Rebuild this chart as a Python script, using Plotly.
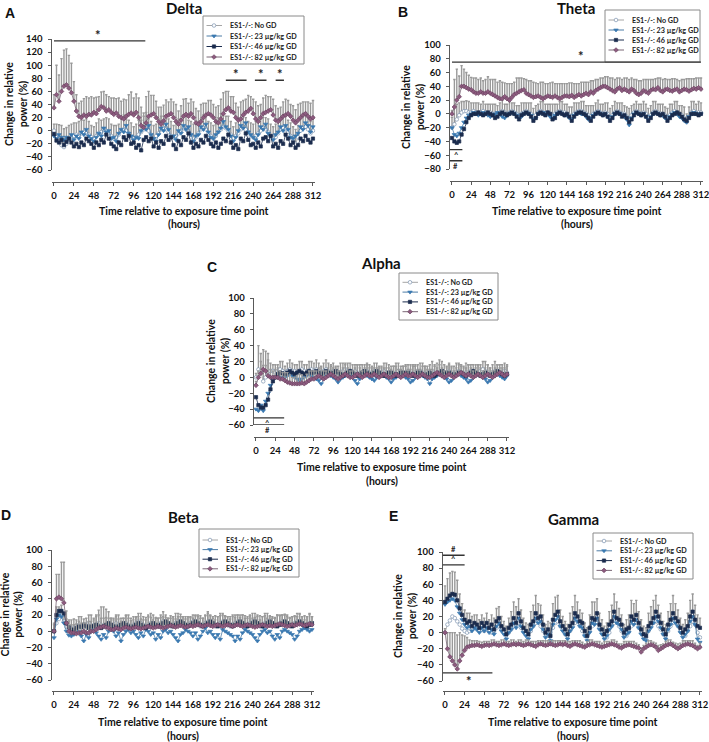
import plotly.graph_objects as go

# canvas size (px)
W, H = 709, 742

# sampling grid: every 3 h from exposure (0) to 312 h
HOURS = list(range(0, 313, 3))
X_TICKS = list(range(0, 313, 24))

SERIES_NAMES = ["ES1-/-: No GD", "ES1-/-: 23 µg/kg GD",
                "ES1-/-: 46 µg/kg GD", "ES1-/-: 82 µg/kg GD"]

# ---------------- Delta ----------------
DELTA_NOGD = [
    0, -10, -16, -22, -25, -20, -14, -10,
    -8, -6, -8, -4, -2, -4, -6, -10,
    -12, -8, -4, -2, 2, 0, -4, -8,
    -12, -10, -6, 0, 2, 0, -4, -10,
    -12, -10, -6, -2, 2, 4, 0, -6,
    -12, -8, -4, 2, 4, 2, -2, -8,
    -10, -8, -4, 0, 4, 2, -2, -6,
    -12, -10, -4, 2, 4, 2, -4, -8,
    -12, -8, -2, 2, 6, 4, 0, -6,
    -12, -8, -4, 2, 4, 2, -2, -8,
    -10, -8, -4, 0, 4, 2, -2, -8,
    -12, -10, -4, 2, 4, 2, -2, -8,
    -14, -20, -10, 0, 4, 6, 2, -4,
    0]
DELTA_23 = [
    -8, -12, -6, -10, -14, -10, -12, -6,
    -14, -8, -12, -2, -6, 2, -8, -12,
    -16, -10, -4, -8, 4, -2, 0, -12,
    -10, -16, -4, 2, -2, 8, -4, -8,
    -14, -10, -12, 0, 6, 2, 8, -6,
    -12, -16, -6, 4, 0, 10, 2, -10,
    -8, -14, 0, -4, 8, 2, 6, -6,
    -16, -8, -6, 6, 2, 10, -2, -10,
    -12, -6, -2, 4, 14, 6, 2, -8,
    -16, -10, 0, 8, 4, 12, -2, -6,
    -10, -14, -6, 6, 2, 10, -4, -8,
    -14, -6, -2, 6, 0, 8, 2, -10,
    -12, -8, -4, 6, 2, 12, 8, -2,
    6]
DELTA_46 = [
    -5, -15, -18, -14, -22, -17, -12, -18,
    -24, -20, -25, -18, -22, -12, -16, -20,
    -26, -18, -22, -14, -18, -6, -12, -20,
    -24, -28, -18, -22, -10, -14, -8, -20,
    -18, -26, -22, -30, -14, -10, -16, -12,
    -24, -18, -26, -16, -20, -8, -14, -10,
    -22, -28, -16, -22, -10, -14, -4, -18,
    -26, -20, -24, -14, -18, -8, -14, -20,
    -24, -18, -26, -20, -12, -16, -6, -18,
    -26, -22, -28, -12, -16, -4, -14, -22,
    -20, -26, -18, -24, -12, -10, -16, -8,
    -24, -20, -26, -16, -20, -6, -12, -22,
    -18, -26, -22, -12, -16, -8, -14, -18,
    -12]
DELTA_82 = [
    35, 55, 45, 60, 68, 70, 65, 58,
    45, 30, 22, 20, 24, 22, 25, 24,
    28, 26, 32, 37, 35, 30, 32, 28,
    25, 27, 22, 20, 18, 22, 25, 27,
    24, 28, 20, 8, 5, 12, 22, 24,
    26, 20, 14, 10, 15, 22, 24, 26,
    20, 14, 10, 16, 22, 25, 22, 26,
    20, 12, 10, 14, 20, 24, 26, 24,
    20, 14, 12, 18, 26, 32, 35, 30,
    28, 20, 16, 18, 24, 28, 30, 34,
    26, 18, 14, 20, 26, 28, 30, 32,
    24, 16, 14, 18, 22, 24, 26, 22,
    16, 12, 16, 20, 24, 26, 22, 18,
    20]
DELTA_ERR_NOGD = [
    10, 20, 25, 30, 28, 25, 22, 20,
    20, 18, 22, 20, 18, 22, 20, 18,
    18, 20, 22, 18, 16, 20, 22, 18,
    20, 18, 16, 20, 22, 18, 20, 22,
    18, 20, 22, 18, 20, 24, 18, 20,
    20, 18, 22, 20, 18, 16, 20, 22,
    18, 20, 22, 18, 20, 22, 18, 20,
    22, 20, 18, 16, 20, 22, 18, 20,
    20, 18, 22, 24, 20, 18, 22, 20,
    18, 20, 22, 18, 20, 18, 16, 20,
    20, 22, 18, 20, 22, 18, 20, 18,
    18, 20, 22, 18, 20, 22, 18, 20,
    20, 22, 18, 20, 18, 22, 20, 18,
    20]
DELTA_ERR_82 = [
    20, 45, 40, 50, 55, 55, 50, 45,
    30, 25, 20, 25, 25, 30, 25, 28,
    22, 25, 20, 22, 25, 25, 20, 22,
    25, 22, 28, 25, 30, 25, 30, 32,
    26, 28, 30, 28, 22, 40, 38, 30,
    28, 25, 22, 26, 24, 25, 20, 22,
    24, 26, 20, 22, 26, 24, 20, 22,
    24, 22, 20, 26, 22, 18, 20, 22,
    20, 22, 26, 30, 32, 28, 25, 22,
    24, 22, 20, 26, 22, 20, 24, 18,
    22, 26, 24, 20, 24, 26, 22, 20,
    24, 22, 20, 18, 22, 24, 20, 18,
    22, 20, 24, 22, 20, 18, 22, 24,
    26]

# ---------------- Theta ----------------
THETA_NOGD = [
    -20, -15, -8, -2, 2, 4, 4, 2,
    2, 4, 2, 0, 2, 4, 2, 0,
    2, 0, -2, 0, 2, 4, 2, 0,
    2, 4, 2, 0, -2, 0, 2, 4,
    2, 0, -4, -2, 2, 4, 2, 0,
    2, 0, -2, 0, 2, 4, 2, 2,
    0, -2, -4, 0, 2, 4, 4, 2,
    0, -2, -4, 0, 2, 4, 2, 0,
    2, 0, -4, -2, 2, 4, 2, 0,
    0, -4, -8, -2, 2, 4, 2, 0,
    2, 0, -4, -2, 2, 4, 2, 0,
    0, -2, -6, -2, 2, 4, 2, 0,
    -2, -6, -12, -4, 2, 4, 2, 2,
    2]
THETA_23 = [
    -20, -30, -32, -28, -20, -12, -6, -2,
    0, 2, 0, -2, 0, 2, 0, -2,
    -4, -2, 0, 2, 0, -4, -6, -2,
    0, 2, 0, -2, -6, -4, 0, 2,
    0, -2, -8, -6, 0, 2, 2, 0,
    0, -4, -6, -2, 0, 2, 0, -2,
    -2, -6, -8, -2, 0, 2, 0, 0,
    -4, -8, -6, -2, 0, 2, 0, -2,
    0, -4, -8, -4, 0, 2, 0, -2,
    -4, -8, -16, -6, 0, 2, 0, -2,
    0, -4, -8, -4, 0, 2, 0, -2,
    -2, -6, -8, -4, 0, 2, 0, -4,
    -6, -10, -12, -4, 0, 2, 0, 0,
    0]
THETA_46 = [
    -35, -40, -42, -40, -30, -22, -12, -6,
    -2, 0, 0, 2, 0, -2, 0, 2,
    0, -2, -6, -4, 0, 2, 0, -2,
    0, 2, 0, -4, -8, -2, 0, 2,
    0, -4, -10, -6, 0, 2, 0, -2,
    2, 0, -8, -6, 0, 2, 0, -2,
    0, -4, -10, -4, 0, 2, 2, 0,
    -2, -6, -10, -4, 0, 2, 0, -2,
    0, -4, -10, -6, 0, 2, 0, -4,
    -2, -6, -12, -8, -2, 2, 0, -2,
    0, -4, -10, -6, 0, 2, 0, -2,
    0, -4, -10, -6, -2, 0, 2, 0,
    -4, -8, -10, -6, 0, 0, 0, -2,
    0]
THETA_82 = [
    0, 10, 20, 25, 40, 40, 38, 36,
    35, 32, 30, 30, 32, 30, 30, 32,
    30, 28, 26, 24, 22, 22, 25, 22,
    20, 24, 28, 30, 32, 34, 35, 30,
    28, 26, 24, 25, 26, 24, 22, 24,
    26, 25, 24, 26, 24, 22, 24, 26,
    26, 25, 27, 24, 26, 28, 26, 28,
    30, 28, 32, 30, 34, 36, 38, 40,
    40, 38, 36, 34, 32, 36, 38, 34,
    36, 34, 32, 36, 34, 30, 28, 30,
    34, 32, 30, 34, 36, 35, 38, 34,
    32, 35, 36, 34, 33, 35, 36, 32,
    34, 36, 35, 33, 35, 37, 36, 38,
    36]
THETA_ERR_NOGD = [
    15, 25, 22, 18, 16, 14, 15, 16,
    14, 12, 14, 16, 12, 14, 12, 14,
    12, 14, 16, 12, 14, 16, 12, 14,
    16, 12, 14, 12, 14, 16, 14, 12,
    14, 16, 12, 14, 12, 14, 16, 14,
    12, 14, 16, 14, 12, 14, 16, 12,
    14, 12, 14, 16, 14, 12, 14, 16,
    12, 14, 16, 12, 14, 16, 12, 14,
    14, 16, 12, 14, 16, 12, 14, 16,
    12, 14, 16, 14, 12, 14, 12, 14,
    16, 14, 12, 14, 16, 14, 12, 14,
    14, 12, 14, 16, 12, 14, 16, 12,
    14, 16, 12, 14, 16, 14, 12, 16,
    14]
THETA_ERR_82 = [
    5, 40, 45, 30, 30, 25, 22, 20,
    18, 20, 22, 20, 20, 18, 20, 22,
    20, 22, 24, 22, 26, 24, 20, 22,
    24, 20, 18, 22, 20, 18, 16, 20,
    20, 22, 22, 20, 18, 22, 24, 20,
    18, 20, 22, 18, 20, 22, 20, 18,
    18, 20, 18, 20, 18, 16, 20, 18,
    16, 18, 16, 18, 16, 14, 14, 12,
    14, 16, 16, 18, 18, 16, 14, 16,
    16, 18, 18, 16, 16, 20, 20, 18,
    16, 18, 20, 16, 14, 16, 14, 18,
    18, 16, 14, 16, 18, 16, 14, 16,
    16, 14, 16, 18, 16, 14, 16, 14,
    16]

# ---------------- Alpha ----------------
ALPHA_NOGD = [
    0, 10, 8, -5, 0, 5, 8, 8,
    6, 8, 10, 8, 6, 8, 10, 8,
    8, 6, 8, 10, 8, 6, 8, 10,
    8, 10, 8, 6, 8, 10, 8, 6,
    8, 6, 4, 6, 8, 10, 8, 6,
    6, 8, 6, 4, 6, 8, 8, 6,
    6, 8, 6, 4, 6, 8, 6, 6,
    6, 4, 6, 8, 6, 4, 6, 8,
    6, 4, 6, 8, 8, 6, 4, 6,
    6, 8, 6, 4, 6, 8, 6, 6,
    8, 6, 4, 6, 8, 6, 4, 6,
    6, 8, 6, 4, 6, 8, 10, 8,
    6, 4, 6, 8, 6, 4, 6, 8,
    6]
ALPHA_23 = [
    -40, -42, -35, -42, -30, -20, -10, -3,
    0, 2, 0, -2, 0, 2, 4, 2,
    0, -2, -4, -2, 0, 2, 4, 2,
    0, -2, -4, -8, -2, 2, 4, 2,
    0, -2, -6, -2, 0, 2, 4, 2,
    0, -4, -8, -2, 2, 4, 2, 0,
    -2, -4, 0, 2, 4, 2, 0, -2,
    -6, -2, 0, 2, 4, 2, 0, -2,
    -6, -4, 0, 2, 4, 2, 0, -2,
    -8, -2, 0, 2, 4, 2, 0, -2,
    -6, -4, 0, 2, 4, 2, 0, -2,
    -6, -4, 0, 2, 4, 2, 0, -2,
    -6, -4, 0, 2, 4, 2, 0, -2,
    2]
ALPHA_46 = [
    -25, -35, -38, -38, -35, -28, -15, -5,
    0, 4, 6, 5, 4, 6, 8, 6,
    4, 6, 8, 6, 4, 6, 8, 6,
    6, 8, 6, 4, 6, 8, 6, 4,
    6, 8, 6, 4, 2, 4, 6, 8,
    6, 4, 2, 4, 6, 8, 6, 4,
    4, 6, 8, 6, 4, 2, 4, 6,
    6, 4, 2, 4, 6, 6, 4, 6,
    4, 2, 4, 6, 6, 4, 2, 4,
    6, 4, 2, 4, 6, 8, 6, 4,
    6, 4, 2, 4, 6, 6, 4, 2,
    4, 6, 8, 6, 4, 2, 4, 6,
    4, 2, 4, 6, 8, 6, 4, 2,
    4]
ALPHA_82 = [
    -10, 0, 5, 10, 8, 2, 0, 0,
    0, 0, -2, -2, -4, -6, -7, -8,
    -8, -8, -8, -7, -8, -6, -4, -2,
    -2, 0, 2, 0, -2, 0, 2, 4,
    2, 0, -2, 0, 2, 4, 2, 0,
    0, 2, 4, 2, 0, 2, 4, 2,
    2, 4, 2, 0, 2, 4, 2, 0,
    0, 2, 4, 2, 0, 2, 4, 2,
    2, 4, 2, 0, 2, 4, 2, 0,
    0, 2, 4, 6, 4, 2, 0, 2,
    4, 2, 0, 2, 4, 6, 4, 2,
    4, 2, 0, 2, 4, 2, 0, 2,
    4, 2, 0, 2, 4, 6, 4, 2,
    4]
ALPHA_ERR_NOGD = [
    5, 30, 22, 20, 15, 25, 10, 8,
    10, 8, 10, 12, 8, 10, 12, 10,
    8, 10, 12, 10, 8, 10, 12, 10,
    10, 12, 10, 8, 10, 12, 10, 8,
    10, 8, 10, 12, 10, 8, 10, 12,
    10, 8, 10, 12, 10, 8, 10, 10,
    8, 10, 12, 10, 8, 10, 12, 10,
    8, 10, 12, 10, 8, 10, 10, 8,
    10, 12, 10, 8, 10, 12, 10, 8,
    10, 12, 10, 8, 10, 12, 10, 8,
    10, 8, 10, 12, 10, 8, 10, 12,
    10, 8, 10, 12, 10, 8, 10, 12,
    10, 8, 10, 12, 10, 8, 10, 10,
    10]
ALPHA_ERR_82 = [
    5, 8, 15, 25, 25, 20, 10, 8,
    10, 12, 10, 8, 10, 12, 10, 8,
    8, 10, 12, 10, 8, 10, 12, 10,
    10, 8, 10, 12, 10, 8, 10, 12,
    10, 12, 10, 8, 10, 12, 10, 8,
    8, 10, 12, 10, 8, 10, 12, 10,
    10, 8, 10, 12, 10, 8, 10, 12,
    10, 12, 10, 8, 10, 12, 10, 8,
    8, 10, 12, 10, 8, 10, 12, 10,
    10, 8, 10, 12, 18, 10, 8, 10,
    12, 10, 8, 10, 12, 10, 8, 10,
    12, 10, 8, 10, 12, 10, 8, 10,
    12, 10, 8, 10, 12, 10, 8, 10,
    10]

# ---------------- Beta ----------------
BETA_NOGD = [
    0, 10, 15, 20, 12, 5, 4, 4,
    5, 6, 8, 6, 5, 8, 10, 8,
    6, 8, 10, 8, 6, 5, 6, 8,
    8, 10, 8, 6, 8, 10, 8, 6,
    8, 10, 12, 10, 8, 6, 8, 10,
    8, 6, 8, 10, 12, 10, 8, 6,
    8, 10, 12, 10, 8, 6, 8, 10,
    12, 10, 8, 6, 8, 10, 12, 10,
    8, 6, 8, 10, 12, 10, 8, 6,
    8, 10, 12, 10, 8, 6, 8, 10,
    12, 10, 8, 6, 8, 10, 12, 10,
    8, 6, 8, 10, 12, 10, 8, 6,
    8, 10, 12, 10, 8, 6, 8, 10,
    8]
BETA_23 = [
    -8, 15, 20, 18, 10, 0, -5, -6,
    -4, -2, 0, -6, -12, -4, -8, 0,
    2, -2, -6, -10, -4, -8, 0, 2,
    0, -6, -2, -12, -4, 0, 2, -2,
    0, -4, -8, -2, -6, 2, 0, -4,
    -2, -10, -4, -8, 0, 2, -2, 0,
    -4, -8, -12, -4, -2, 2, 0, -2,
    -6, -2, -10, -6, 0, 4, -2, 0,
    -4, -8, -4, -10, 2, 0, -2, -4,
    -6, -12, -6, -10, -2, 2, 0, -2,
    -4, -8, -12, -4, 0, 2, -2, 0,
    -6, -10, -4, -8, 0, 2, 0, -2,
    -4, -10, -6, 0, 2, 4, 2, 0,
    2]
BETA_46 = [
    0, 20, 25, 25, 22, 10, 5, 2,
    2, 4, 6, 5, 8, 6, 4, 6,
    6, 8, 6, 4, 6, 8, 10, 8,
    6, 4, 6, 8, 10, 8, 6, 4,
    6, 8, 10, 8, 6, 4, 6, 8,
    10, 8, 6, 8, 10, 12, 10, 8,
    6, 8, 10, 12, 10, 8, 6, 8,
    10, 12, 10, 8, 6, 8, 10, 12,
    10, 8, 6, 8, 10, 12, 10, 8,
    6, 8, 10, 12, 10, 8, 6, 8,
    10, 12, 10, 8, 6, 8, 10, 12,
    10, 8, 6, 8, 10, 12, 10, 8,
    6, 8, 10, 12, 10, 8, 6, 8,
    10]
BETA_82 = [
    0, 40, 42, 40, 35, 10, 0, -2,
    -2, -3, -2, -2, 0, -2, -2, 0,
    0, 2, 4, 5, 6, 5, 4, 2,
    2, 4, 3, 2, 4, 5, 4, 3,
    4, 5, 4, 3, 4, 5, 6, 5,
    4, 5, 6, 5, 4, 5, 6, 7,
    6, 5, 6, 7, 6, 5, 6, 7,
    6, 7, 8, 7, 6, 7, 8, 7,
    6, 7, 8, 7, 6, 7, 8, 7,
    6, 7, 8, 7, 6, 7, 8, 7,
    6, 5, 6, 7, 8, 7, 6, 7,
    6, 7, 8, 9, 8, 7, 6, 7,
    8, 7, 8, 9, 8, 7, 8, 9,
    8]
BETA_ERR_NOGD = [
    8, 20, 15, 12, 10, 10, 10, 10,
    10, 8, 10, 12, 10, 8, 10, 12,
    10, 12, 10, 8, 10, 12, 10, 8,
    8, 10, 12, 10, 8, 10, 12, 10,
    10, 8, 10, 12, 10, 8, 10, 12,
    12, 10, 8, 10, 12, 10, 8, 10,
    10, 12, 10, 8, 10, 12, 10, 8,
    8, 10, 12, 10, 8, 10, 12, 10,
    10, 8, 10, 12, 10, 8, 10, 12,
    12, 10, 8, 10, 12, 10, 8, 10,
    10, 12, 10, 8, 10, 12, 10, 8,
    8, 10, 12, 10, 8, 10, 12, 10,
    10, 8, 10, 12, 10, 8, 10, 12,
    10]
BETA_ERR_82 = [
    10, 30, 28, 45, 50, 15, 12, 10,
    10, 12, 14, 12, 10, 12, 14, 12,
    14, 16, 22, 25, 24, 22, 20, 14,
    12, 14, 12, 10, 12, 14, 12, 10,
    10, 12, 14, 12, 10, 12, 14, 12,
    10, 12, 10, 12, 14, 12, 10, 12,
    12, 10, 12, 14, 12, 10, 12, 10,
    10, 12, 10, 12, 10, 12, 14, 12,
    10, 12, 10, 12, 14, 12, 10, 8,
    12, 10, 12, 10, 14, 12, 10, 12,
    10, 12, 14, 12, 10, 12, 10, 12,
    12, 10, 12, 10, 12, 14, 12, 10,
    10, 12, 10, 12, 10, 12, 10, 12,
    10]

# ---------------- Gamma ----------------
GAMMA_NOGD = [
    0, 10, 15, 20, 18, 14, 10, 5,
    2, 0, 2, 4, 6, 4, 2, 4,
    2, 4, 2, 0, 2, 6, 8, 4,
    0, -2, 0, 4, 8, 10, 12, 6,
    2, -2, -4, 2, 8, 12, 14, 8,
    2, -2, -4, 0, 6, 12, 14, 8,
    4, -2, -4, 2, 8, 12, 14, 8,
    2, -4, -4, 2, 8, 12, 12, 6,
    0, -4, -6, 0, 8, 12, 14, 8,
    2, -2, -4, 2, 8, 12, 12, 6,
    0, -4, -6, 2, 8, 12, 14, 8,
    4, -2, -4, 2, 8, 12, 14, 8,
    2, -2, -4, 2, 8, 14, 10, 0,
    -6]
GAMMA_23 = [
    35, 38, 40, 42, 40, 32, 24, 16,
    10, 6, 8, 2, 6, 4, 0, 6,
    2, 6, 0, 4, -2, 8, 12, 2,
    -2, -8, 0, 4, 12, 6, 18, 8,
    0, -4, -8, 4, 8, 18, 12, 14,
    4, -6, -2, -10, 10, 16, 20, 8,
    2, -2, -8, 2, 6, 18, 14, 8,
    6, -4, -10, 0, 12, 10, 18, 4,
    -2, -8, -4, 4, 8, 20, 12, 10,
    4, -6, -2, 0, 14, 10, 16, 6,
    -2, -8, -10, 2, 6, 12, 20, 14,
    6, -2, -8, 4, 10, 18, 12, 8,
    0, -6, -2, 2, 14, 20, 10, -8,
    -12]
GAMMA_46 = [
    38, 42, 46, 48, 47, 40, 30, 22,
    16, 12, 14, 8, 12, 10, 6, 12,
    8, 12, 6, 10, 4, 14, 18, 8,
    4, -2, 6, 10, 18, 12, 24, 14,
    6, 2, -2, 10, 14, 24, 18, 20,
    10, 0, 4, -4, 16, 22, 26, 14,
    8, 4, -2, 8, 12, 24, 20, 14,
    12, 2, -4, 6, 18, 16, 24, 10,
    4, -2, 2, 10, 14, 26, 18, 16,
    10, 0, 4, 6, 20, 16, 22, 12,
    4, -2, -4, 8, 12, 18, 26, 20,
    12, 4, -2, 10, 16, 24, 18, 14,
    6, 0, 4, 8, 20, 26, 16, 8,
    6]
GAMMA_82 = [
    0, -20, -30, -35, -40, -45, -35, -28,
    -22, -18, -17, -16, -16, -15, -16, -17,
    -16, -15, -16, -15, -14, -15, -16, -15,
    -14, -15, -16, -15, -14, -15, -14, -15,
    -16, -15, -14, -15, -16, -17, -15, -14,
    -15, -16, -15, -14, -15, -16, -15, -14,
    -15, -14, -16, -17, -15, -14, -15, -16,
    -17, -18, -16, -15, -14, -15, -16, -17,
    -18, -17, -16, -15, -14, -15, -16, -18,
    -19, -17, -16, -15, -16, -17, -18, -19,
    -24, -20, -18, -16, -15, -16, -18, -22,
    -20, -18, -16, -15, -14, -16, -18, -20,
    -18, -16, -15, -14, -15, -16, -18, -20,
    -18]
GAMMA_ERR_46 = [
    20, 25, 28, 28, 28, 25, 18, 14,
    12, 12, 10, 12, 10, 12, 10, 10,
    10, 12, 10, 12, 14, 16, 14, 12,
    10, 10, 12, 16, 20, 20, 18, 14,
    12, 10, 12, 16, 20, 22, 18, 14,
    12, 10, 10, 16, 20, 22, 20, 14,
    12, 10, 12, 16, 20, 22, 18, 14,
    12, 10, 10, 16, 20, 22, 18, 14,
    12, 10, 10, 16, 20, 22, 20, 14,
    12, 10, 12, 16, 20, 20, 18, 14,
    12, 10, 10, 16, 20, 22, 20, 14,
    12, 10, 12, 16, 20, 22, 18, 14,
    12, 10, 12, 16, 20, 22, 18, 14,
    12]
GAMMA_ERR_82 = [
    5, 20, 30, 35, 40, 42, 35, 25,
    18, 12, 8, 6, 6, 5, 5, 5,
    5, 4, 5, 6, 5, 4, 5, 6,
    5, 4, 5, 6, 5, 4, 5, 6,
    5, 6, 5, 4, 5, 6, 5, 4,
    5, 6, 5, 4, 5, 6, 5, 4,
    5, 4, 5, 6, 5, 4, 5, 6,
    5, 4, 5, 6, 5, 4, 5, 6,
    5, 6, 5, 4, 5, 6, 5, 4,
    5, 6, 5, 4, 5, 6, 5, 4,
    5, 4, 5, 6, 5, 4, 5, 6,
    5, 4, 5, 6, 5, 4, 5, 6,
    5, 6, 5, 4, 5, 6, 5, 4,
    5]

# significance bars: (start h, end h, level)   labels: (text, h, level, side)
DELTA_BARS = [(0, 110, 137), (207, 232, 77), (242, 256, 77), (267, 277, 77)]
DELTA_MARKS = [("*", 53, 137, "above"), ("*", 219, 77, "above"),
               ("*", 249, 77, "above"), ("*", 272, 77, "above")]
THETA_BARS = [(0, 312, 75), (-3, 13, -52), (-3, 13, -68)]
THETA_MARKS = [("*", 162, 75, "above"), ("^", 5, -52, "below"), ("#", 5, -68, "below")]
ALPHA_BARS = [(-3, 35, -51), (-3, 35, -60)]
ALPHA_MARKS = [("^", 14, -51, "below"), ("#", 14, -60, "below")]
GAMMA_BARS = [(-3, 24, 96), (-3, 24, 84), (-3, 58, -50)]
GAMMA_MARKS = [("#", 10, 96, "above"), ("^", 10, 84, "above"), ("*", 29, -50, "below")]

# marker / line style per group
STYLES = [
    dict(symbol="circle", fill="white", edge="#7d94b0", line="#a6a6a6", size=3.6),
    dict(symbol="triangle-down", fill="#3a78b0", edge="#3a78b0", line="#4d7ca6", size=4),
    dict(symbol="square", fill="#1b2c4e", edge="#1b2c4e", line="#1b2c4e", size=3.3),
    dict(symbol="diamond", fill="#8d5b7f", edge="#6c4461", line="#7a6877", size=3.6),
]
ERR_COLOR = "#999999"
AXIS_COLOR = "#595959"
FONT = "Lato"

# panel geometry in px: p0/p312 = pixel of 0 h and 312 h, yt/yb = top/bottom of y axis
PANELS = [
    dict(letter="A", title="Delta", series=[DELTA_NOGD, DELTA_23, DELTA_46, DELTA_82],
         errs={0: DELTA_ERR_NOGD, 3: DELTA_ERR_82}, yr=[-60, 140],
         p0=54, p312=313, yt=39, yb=170, xline=181.5,
         letter_xy=(10, 13), title_xy=(184, 8), ytitle_x=15.5, xtitle_y=211,
         legend_box=(203, 16, 304, 64), legend_rows=(25.5, 10.5),
         bars=DELTA_BARS, marks=DELTA_MARKS),
    dict(letter="B", title="Theta", series=[THETA_NOGD, THETA_23, THETA_46, THETA_82],
         errs={0: THETA_ERR_NOGD, 3: THETA_ERR_82}, yr=[-80, 100],
         p0=452, p312=701, yt=45, yb=169, xline=181,
         letter_xy=(403, 12), title_xy=(576, 8), ytitle_x=413, xtitle_y=211,
         legend_box=(605, 10, 700, 62), legend_rows=(20, 10),
         bars=THETA_BARS, marks=THETA_MARKS),
    dict(letter="C", title="Alpha", series=[ALPHA_NOGD, ALPHA_23, ALPHA_46, ALPHA_82],
         errs={0: ALPHA_ERR_NOGD, 3: ALPHA_ERR_82}, yr=[-60, 100],
         p0=256, p312=507, yt=298, yb=425, xline=437,
         letter_xy=(212, 267), title_xy=(381, 263), ytitle_x=217.5, xtitle_y=467,
         legend_box=(399, 273, 498, 320), legend_rows=(282.3, 9.8),
         bars=ALPHA_BARS, marks=ALPHA_MARKS),
    dict(letter="D", title="Beta", series=[BETA_NOGD, BETA_23, BETA_46, BETA_82],
         errs={0: BETA_ERR_NOGD, 3: BETA_ERR_82}, yr=[-60, 100],
         p0=54, p312=312, yt=550, yb=680, xline=691,
         letter_xy=(6, 515), title_xy=(183, 517), ytitle_x=11.5, xtitle_y=722,
         legend_box=(199, 529, 299, 577), legend_rows=(540, 9.6),
         bars=[], marks=[]),
    dict(letter="E", title="Gamma", series=[GAMMA_NOGD, GAMMA_23, GAMMA_46, GAMMA_82],
         errs={2: GAMMA_ERR_46, 3: GAMMA_ERR_82}, yr=[-60, 100],
         p0=445, p312=700, yt=552, yb=681, xline=691,
         letter_xy=(393, 516), title_xy=(573, 519), ytitle_x=404.5, xtitle_y=722,
         legend_box=(593, 533, 693, 579), legend_rows=(541, 9.8),
         bars=GAMMA_BARS, marks=GAMMA_MARKS),
]
X_RANGE = [-3, 315]


def fx(px):
    return px / W


def fy(py):
    return 1 - py / H


fig = go.Figure()
annotations = []
shapes = []
layout = {}

# overlay axis in pixel units, used for the hand-drawn legends
LX, LY = "x6", "y6"
layout["xaxis6"] = dict(domain=[0, 1], range=[0, W], visible=False, fixedrange=True)
layout["yaxis6"] = dict(domain=[0, 1], range=[H, 0], visible=False, fixedrange=True, anchor=LX)

for i, p in enumerate(PANELS):
    n = "" if i == 0 else str(i + 1)
    xa, ya = "x" + n, "y" + n
    k = (p["p312"] - p["p0"]) / 312.0

    for j, vals in enumerate(p["series"]):
        assert len(vals) == len(HOURS), (p["title"], j, len(vals))
        st = STYLES[j]
        err = p["errs"].get(j)
        fig.add_trace(go.Scatter(
            x=HOURS, y=vals, xaxis=xa, yaxis=ya, showlegend=False,
            name=SERIES_NAMES[j], mode="lines+markers",
            line=dict(color=st["line"], width=0.8),
            marker=dict(symbol=st["symbol"], size=st["size"], color=st["fill"],
                        line=dict(color=st["edge"], width=0.7)),
            error_y=dict(type="data", array=err, symmetric=False, arrayminus=[0] * len(err),
                         color=ERR_COLOR, thickness=1.4, width=1.2) if err else None,
            hoverinfo="skip",
        ))

    layout["xaxis" + n] = dict(
        domain=[fx(p["p0"] + X_RANGE[0] * k), fx(p["p0"] + X_RANGE[1] * k)],
        range=X_RANGE, anchor="free", position=fy(p["xline"]), automargin=False,
        showline=True, linecolor=AXIS_COLOR, linewidth=1, ticks="outside", ticklen=3,
        tickcolor=AXIS_COLOR, tickvals=X_TICKS, tickangle=0, showgrid=False, zeroline=False,
        tickfont=dict(family=FONT, size=9.5, color="#111", weight="bold"),
        ticklabelstandoff=2, ticklabeloverflow="allow",
    )
    layout["yaxis" + n] = dict(
        domain=[fy(p["yb"]), fy(p["yt"])], range=p["yr"], anchor=xa, automargin=False,
        showline=True, linecolor=AXIS_COLOR, linewidth=1, ticks="outside", ticklen=3,
        tickcolor=AXIS_COLOR, dtick=20, showgrid=False, zeroline=False,
        tickfont=dict(family=FONT, size=9.5, color="#111", weight="bold"),
        ticklabelstandoff=3, ticklabeloverflow="allow",
    )

    # legend box drawn by hand
    bx0, by0, bx1, by1 = p["legend_box"]
    shapes.append(dict(type="rect", xref=LX, yref=LY, x0=bx0, x1=bx1, y0=by0, y1=by1,
                       line=dict(color="#8a8a8a", width=1), fillcolor="white", layer="below"))
    r0, dr = p["legend_rows"]
    for j, st in enumerate(STYLES):
        ry = r0 + j * dr
        fig.add_trace(go.Scatter(
            x=[bx0 + 3.5, bx0 + 19], y=[ry, ry], xaxis=LX, yaxis=LY, mode="lines",
            line=dict(color=st["line"], width=1), showlegend=False, hoverinfo="skip"))
        fig.add_trace(go.Scatter(
            x=[bx0 + 11], y=[ry], xaxis=LX, yaxis=LY, mode="markers",
            marker=dict(symbol=st["symbol"], size=st["size"], color=st["fill"],
                        line=dict(color=st["edge"], width=0.7)),
            showlegend=False, hoverinfo="skip"))
        annotations.append(dict(text="<b>%s</b>" % SERIES_NAMES[j], xref=LX, yref=LY,
                                x=bx0 + 25, y=ry, xanchor="left",
                                font=dict(family=FONT, size=7.2, color="#222")))

    # text
    lx, ly = p["letter_xy"]
    annotations.append(dict(text="<b>%s</b>" % p["letter"], x=fx(lx), y=fy(ly),
                            font=dict(family="Liberation Sans", size=14, color="#111")))
    tx, ty = p["title_xy"]
    annotations.append(dict(text="<b>%s</b>" % p["title"], x=fx(tx), y=fy(ty),
                            font=dict(family=FONT, size=15, color="#111")))
    annotations.append(dict(text="<b>Change in relative<br>power (%)</b>", textangle=-90,
                            x=fx(p["ytitle_x"]), y=fy((p["yt"] + p["yb"]) / 2),
                            font=dict(family=FONT, size=10.5, color="#111")))
    cx = p["p0"] + 156 * k
    annotations.append(dict(text="<b>Time relative to exposure time point</b>",
                            x=fx(cx), y=fy(p["xtitle_y"]),
                            font=dict(family=FONT, size=10.5, color="#111")))
    annotations.append(dict(text="<b>(hours)</b>", x=fx(cx), y=fy(p["xtitle_y"] + 13.5),
                            font=dict(family=FONT, size=10.5, color="#111")))

    for (h0, h1, lev) in p["bars"]:
        shapes.append(dict(type="line", xref=xa, yref=ya, x0=h0, x1=h1, y0=lev, y1=lev,
                           line=dict(color="#333", width=1.3)))
    for (txt, h, lev, side) in p["marks"]:
        big = txt == "*"
        annotations.append(dict(
            text="<b>%s</b>" % txt, xref=xa, yref=ya, x=h, y=lev,
            yanchor="bottom" if side == "above" else "top",
            yshift=(-4 if big else -1) if side == "above" else (2 if big else 1),
            font=dict(family=FONT, size=13 if big else 7.5, color="#222")))

for a in annotations:
    a.setdefault("xref", "paper")
    a.setdefault("yref", "paper")
    a.setdefault("xanchor", "center")
    a.setdefault("yanchor", "middle")
    a["showarrow"] = False

fig.update_layout(
    template="none",
    width=W, height=H, margin=dict(l=0, r=0, t=0, b=0, pad=0),
    paper_bgcolor="white", plot_bgcolor="rgba(0,0,0,0)", showlegend=False,
    annotations=annotations, shapes=shapes, **layout,
)

# the page body has a default 8px margin; drop it so the figure fills the window
fig.write_html("out.html", config={"displayModeBar": False},
               post_script="document.body.style.margin = '0';")
